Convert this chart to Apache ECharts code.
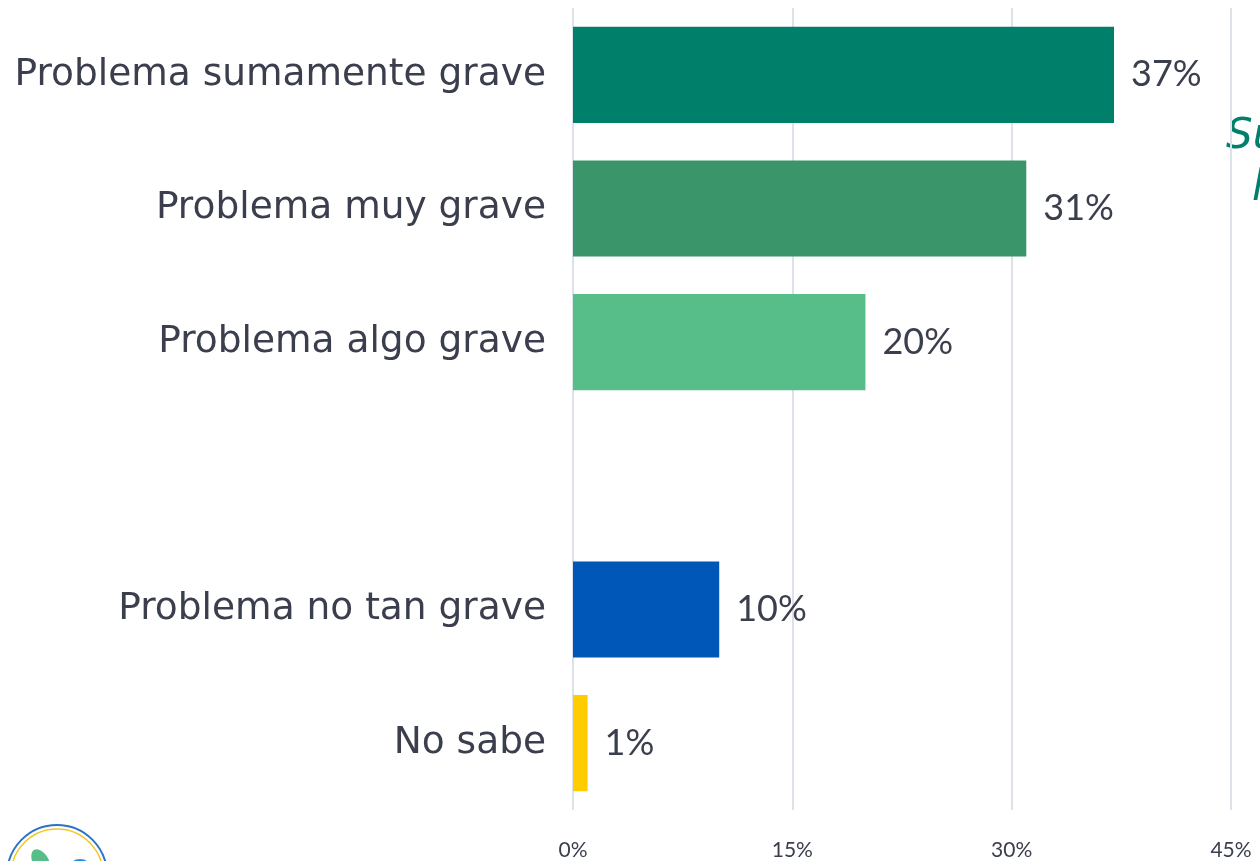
<!DOCTYPE html>
<html>
<head>
<meta charset="utf-8">
<script src="https://cdn.jsdelivr.net/npm/echarts@6/dist/echarts.min.js"></script>
<style>
  html, body { margin: 0; padding: 0; background: #fff; }
  #chart { width: 1260px; height: 861px; }
</style>
</head>
<body>
<div id="chart"></div>
<script>
// categories (top to bottom), '' is the empty spacer row
const categories = [
  'Problema sumamente grave',
  'Problema muy grave',
  'Problema algo grave',
  '',
  'Problema no tan grave',
  'No sabe'
]
const values = [37, 31, 20, null, 10, 1]
const barColors = ['#00806b', '#3a966a', '#57be8a', '#ffffff', '#0057b8', '#ffcc00']
const xTicks = [0, 15, 30, 45]

const textColor = '#3a3e4d'
const catFont = '"DejaVu Sans", sans-serif'
const numFont = 'Lato, "Open Sans", sans-serif'

const chart = echarts.init(document.getElementById('chart'))
chart.setOption({
  animation: false,
  grid: { left: 573, right: 29, top: 8, bottom: 49, containLabel: false },
  xAxis: {
    type: 'value',
    min: xTicks[0],
    max: xTicks[xTicks.length - 1],
    interval: 15,
    axisLine: { show: false },
    axisTick: { show: false },
    axisLabel: {
      color: textColor, fontSize: 21, fontFamily: numFont, margin: 30,
      formatter: v => v + '%'
    },
    splitLine: { lineStyle: { color: '#dde1e9', width: 2 } }
  },
  yAxis: {
    type: 'category',
    inverse: true,
    data: categories,
    axisLine: { show: false },
    axisTick: { show: false },
    axisLabel: { color: textColor, fontSize: 37.5, fontFamily: catFont, margin: 27, padding: [6, 0, 0, 0] }
  },
  series: [{
    type: 'bar',
    barCategoryGap: '28%',
    data: values.map((v, i) => ({ value: v, itemStyle: { color: barColors[i] } })),
    label: {
      show: true,
      position: 'right',
      distance: 17,
      color: textColor,
      fontSize: 36,
      fontFamily: numFont,
      padding: [8, 0, 0, 0],
      formatter: p => p.value == null ? '' : p.value + '%'
    }
  }],
  graphic: [
    { type: 'text', left: 1226, top: 116, style: { text: 'Suma', fill: '#00806b', fontSize: 42, fontStyle: 'italic', fontFamily: catFont } },
    { type: 'text', left: 1252, top: 168, style: { text: 'lll', fill: '#00806b', fontSize: 42, fontStyle: 'italic', fontFamily: catFont } },
    { type: 'circle', shape: { cx: 57, cy: 875, r: 50 }, style: { fill: 'none', stroke: '#2b72c9', lineWidth: 2 } },
    { type: 'circle', shape: { cx: 57, cy: 875, r: 46 }, style: { fill: 'none', stroke: '#f3c623', lineWidth: 1.5 } },
    { type: 'ellipse', x: 41, y: 862, rotation: 0.5, shape: { cx: 0, cy: 0, rx: 8, ry: 14 }, style: { fill: '#57be8a' } },
    { type: 'ellipse', x: 80, y: 862, shape: { cx: 0, cy: 0, rx: 7, ry: 3 }, style: { fill: '#2b8fe0' } }
  ]
})
</script>
</body>
</html>
